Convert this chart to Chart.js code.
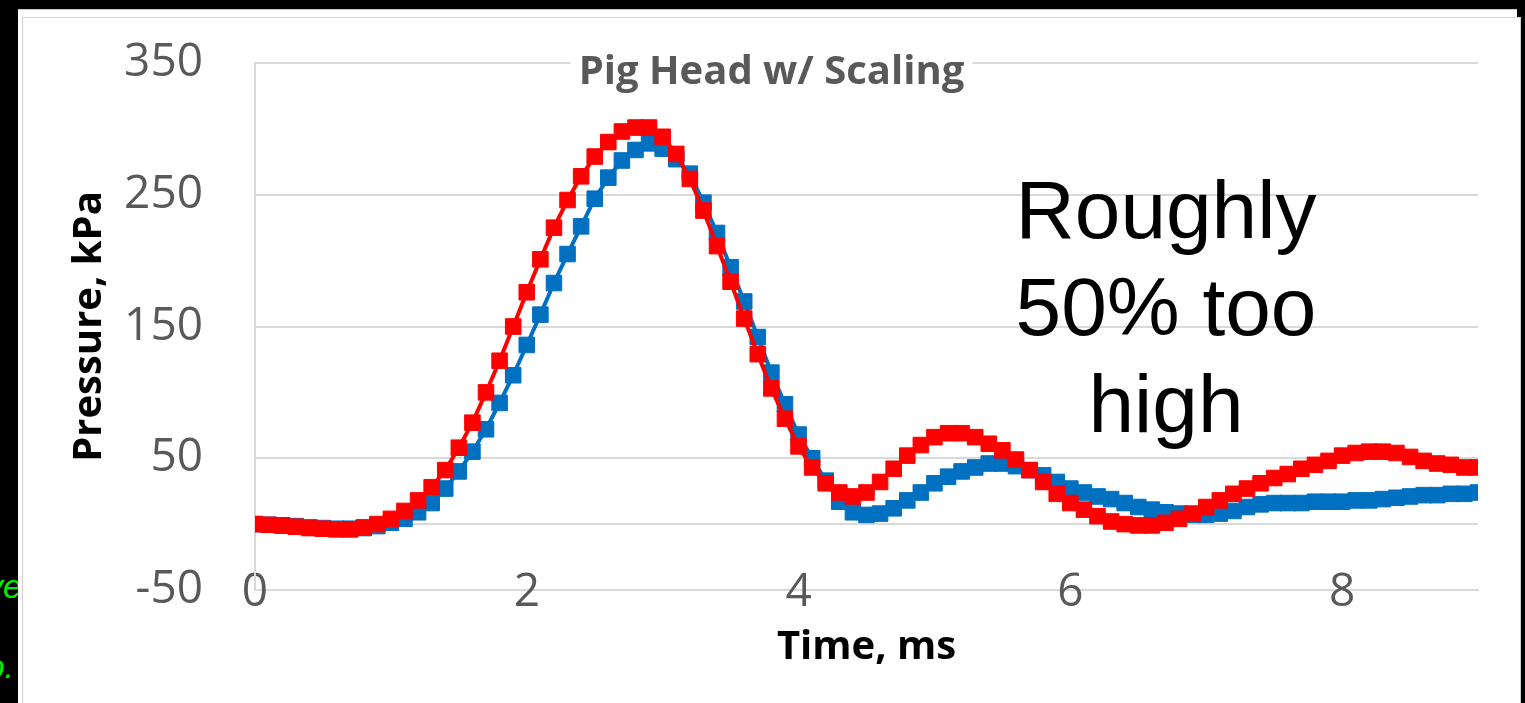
<!DOCTYPE html>
<html>
<head>
<meta charset="utf-8">
<title>Pig Head w/ Scaling</title>
<script src="https://cdn.jsdelivr.net/npm/chart.js@4.4.1/dist/chart.umd.min.js"></script>
<style>
  html, body { margin: 0; padding: 0; background: #000; overflow: hidden; }
  body { width: 1525px; height: 703px; position: relative; }
  .back { position: absolute; left: 18px; top: 9px; width: 1499px; height: 694px; background: #fff; border-top: 1px solid #c8c8c8; box-sizing: border-box; }
  .panel { position: absolute; left: 22px; top: 17px; width: 1499px; height: 686px; background: #fff; border: 1px solid #d0d0d0; border-bottom: none; box-sizing: border-box; }
  .panel canvas { position: absolute; left: 0; top: 0; }
  .scrap { position: absolute; left: 0; width: 18px; height: 44px; overflow: hidden; color: #00ee00; font: italic 34px "Liberation Sans", sans-serif; line-height: 40px; white-space: nowrap; }
  .scrap span { position: absolute; top: 0; }
</style>
</head>
<body>
<div class="scrap" style="top:566px"><span style="right:-4px">ve</span></div>
<div class="scrap" style="top:646px"><span style="right:4px">o.</span></div>
<div class="back"></div>
<div class="panel"><canvas id="pressure" width="1497" height="685"></canvas></div>
<script>
'use strict';

// time in ms, one sample every 0.1 ms
var times = [
  0.0, 0.1, 0.2, 0.3, 0.4, 0.5, 0.6, 0.7, 0.8, 0.9,
  1.0, 1.1, 1.2, 1.3, 1.4, 1.5, 1.6, 1.7, 1.8, 1.9,
  2.0, 2.1, 2.2, 2.3, 2.4, 2.5, 2.6, 2.7, 2.8, 2.9,
  3.0, 3.1, 3.2, 3.3, 3.4, 3.5, 3.6, 3.7, 3.8, 3.9,
  4.0, 4.1, 4.2, 4.3, 4.4, 4.5, 4.6, 4.7, 4.8, 4.9,
  5.0, 5.1, 5.2, 5.3, 5.4, 5.5, 5.6, 5.7, 5.8, 5.9,
  6.0, 6.1, 6.2, 6.3, 6.4, 6.5, 6.6, 6.7, 6.8, 6.9,
  7.0, 7.1, 7.2, 7.3, 7.4, 7.5, 7.6, 7.7, 7.8, 7.9,
  8.0, 8.1, 8.2, 8.3, 8.4, 8.5, 8.6, 8.7, 8.8, 8.9,
  9.0
];

// pressure, kPa
var pressureRed = [
  0, -0.5, -1, -2, -3, -3.5, -4, -4, -2.5, 0,
  4, 10, 18, 28, 41, 58, 77, 100, 124, 150,
  176, 201, 225, 246, 264, 279, 290, 298, 301, 301,
  294, 281, 262, 238, 211, 184, 156, 129, 103, 80,
  59, 43, 31, 24, 21, 24, 32, 42, 52, 60,
  66, 69, 69, 66, 61, 56, 49, 41, 32, 23,
  16, 11, 6, 2, 0, -1, -1, 1, 4, 8,
  13, 18, 23, 27, 31, 35, 38, 42, 45, 48,
  52, 54, 55, 55, 54, 51, 48, 46, 45, 43,
  43
];

var pressureBlue = [
  0, -0.5, -1, -1.5, -2.5, -3, -3.5, -3.5, -3, -1.5,
  1, 4, 9, 16, 27, 40, 55, 72, 92, 113,
  136, 159, 183, 205, 226, 247, 263, 276, 284, 289,
  285, 277, 266, 244, 221, 195, 169, 142, 115, 91,
  68, 50, 33, 17, 9, 7, 8, 12, 18, 24,
  31, 36, 40, 43, 46, 46, 44, 41, 37, 32,
  27, 24, 21, 19, 16, 13, 11, 9, 8, 7,
  7, 8, 10, 13, 15, 16, 16, 16, 17, 17,
  17, 18, 18, 19, 20, 21, 22, 22, 23, 23,
  24
];

var timeTicks = [0, 2, 4, 6, 8];
var pressureTicks = [-50, 0, 50, 150, 250, 350];

var chartTitle = 'Pig Head w/ Scaling';
var noteLines = ['Roughly', '50% too', 'high'];

var gridGrey = '#d9d9d9';
var labelGrey = '#595959';

// title over the top gridline, and the big note on the right
var overlays = {
  id: 'overlays',
  beforeDatasetsDraw: function (chart) {
    var ctx = chart.ctx;
    ctx.save();
    ctx.font = 'bold 40px "Open Sans"';
    var w = ctx.measureText(chartTitle).width;
    var cx = chart.width / 2;
    ctx.fillStyle = '#fff';
    ctx.fillRect(cx - w / 2 - 8, 30, w + 16, 50);
    ctx.fillStyle = labelGrey;
    ctx.textAlign = 'center';
    ctx.textBaseline = 'middle';
    ctx.fillText(chartTitle, cx, 55);

    ctx.font = '82px "Liberation Sans"';
    ctx.fillStyle = '#000';
    ctx.textBaseline = 'alphabetic';
    for (var i = 0; i < noteLines.length; i++) {
      ctx.fillText(noteLines[i], 1143, 220 + i * 97);
    }
    ctx.restore();
  }
};

function series(label, values, color) {
  return {
    label: label,
    data: values,
    borderColor: color,
    backgroundColor: color,
    borderWidth: 4,
    tension: 0,
    pointStyle: 'rect',
    pointRadius: 11,
    pointHoverRadius: 11,
    pointBorderWidth: 1,
    pointBorderColor: color,
    pointBackgroundColor: color
  };
}

window.onload = function () {
  var ctx = document.getElementById('pressure').getContext('2d');
  window.pressureChart = new Chart(ctx, {
    type: 'line',
    data: {
      labels: times,
      datasets: [
        series('Red', pressureRed, '#ff0000'),
        series('Blue', pressureBlue, '#0070c0')
      ]
    },
    options: {
      responsive: false,
      animation: false,
      layout: { padding: { left: 0, top: 45, right: 42, bottom: 0 } },
      plugins: {
        legend: { display: false },
        tooltip: { enabled: false }
      },
      scales: {
        x: {
          type: 'linear',
          min: 0,
          max: 9,
          afterFit: function (scale) {
            scale.height = 113;
            scale.paddingLeft = 0;
            scale.paddingRight = 0;
          },
          afterBuildTicks: function (scale) {
            scale.ticks = timeTicks.map(function (v) { return { value: v }; });
          },
          grid: { display: false, drawTicks: false },
          border: { display: true, color: gridGrey, width: 2 },
          ticks: {
            autoSkip: false,
            maxRotation: 0,
            mirror: true,
            padding: -30,
            color: labelGrey,
            font: { family: 'Open Sans', size: 46 }
          },
          title: {
            display: true,
            text: 'Time, ms',
            color: '#000',
            padding: { top: 0, bottom: 31 },
            font: { family: 'Open Sans', size: 40, weight: 'bold' }
          }
        },
        y: {
          min: -50,
          max: 350,
          // keep the label padding from pushing the plot down
          afterFit: function (scale) {
            scale.width = 232;
            scale.paddingTop = 0;
            scale.paddingBottom = 0;
          },
          afterBuildTicks: function (scale) {
            scale.ticks = pressureTicks.map(function (v) { return { value: v }; });
          },
          grid: { color: gridGrey, lineWidth: 2, drawTicks: false },
          border: { display: true, color: gridGrey, width: 2 },
          ticks: {
            padding: 52,
            color: labelGrey,
            font: { family: 'Open Sans', size: 46 },
            callback: function (v) { return v === 0 ? '' : v; }
          },
          title: {
            display: true,
            text: 'Pressure, kPa',
            color: '#000',
            padding: { top: 43, bottom: 0 },
            font: { family: 'Open Sans', size: 40, weight: 'bold' }
          }
        }
      }
    },
    plugins: [overlays]
  });
};
</script>
</body>
</html>
